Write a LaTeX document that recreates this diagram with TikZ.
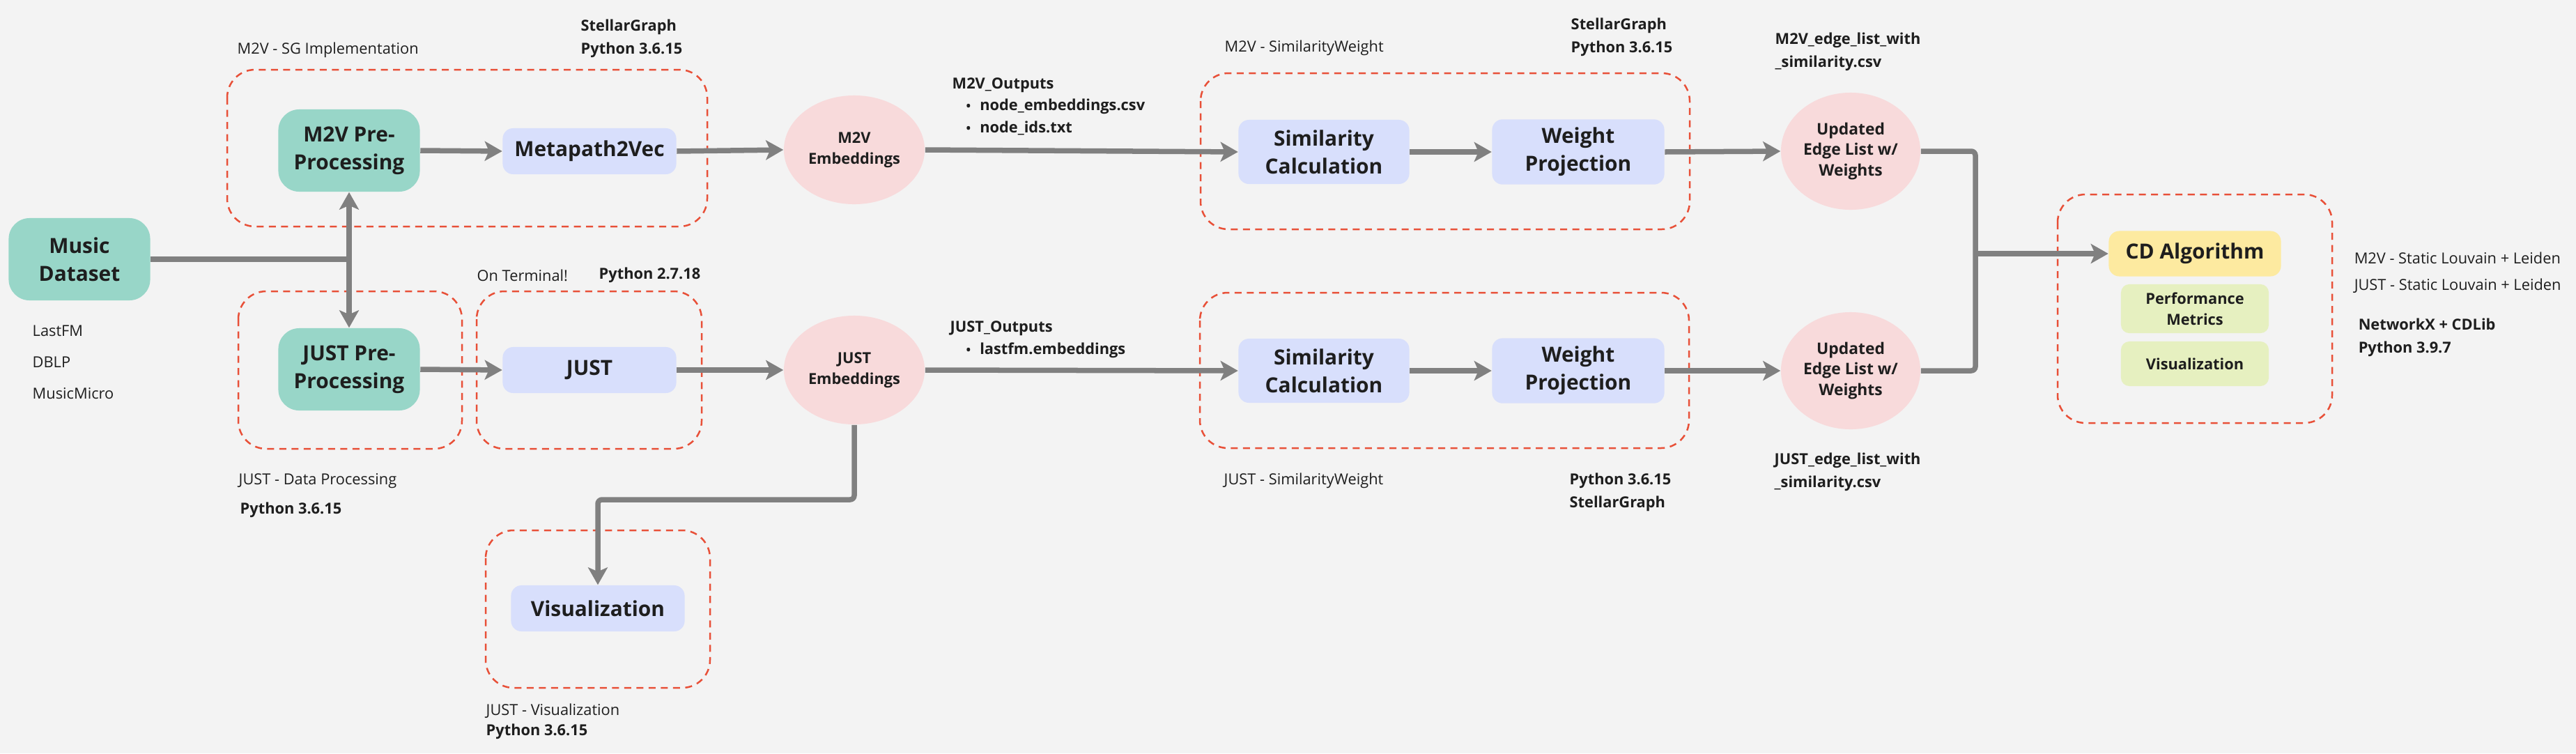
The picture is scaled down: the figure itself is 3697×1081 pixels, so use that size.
\documentclass[tikz,border=0pt]{standalone}
\usepackage{fontspec}
\setmainfont{Open Sans}
\usetikzlibrary{arrows.meta,shapes.geometric}

\newcommand{\blockfont}{\fontsize{8.5}{11.4}\selectfont\bfseries}
\newcommand{\embfont}{\fontsize{6.2}{8.5}\selectfont\bfseries}
\newcommand{\notefont}{\fontsize{6.2}{9.4}\selectfont}

\begin{document}
\begin{tikzpicture}[x=0.01cm,y=-0.01cm,
    prepbox/.style={fill=tealfill,rounded corners=0.3cm,minimum width=2.03cm,
        minimum height=1.18cm,align=center,font=\blockfont,text=ink},
    stagebox/.style={fill=stagefill,rounded corners=0.15cm,minimum width=2.49cm,
        minimum height=0.66cm,align=center,font=\blockfont,text=ink},
    embnode/.style={ellipse,fill=embfill,minimum width=2.02cm,minimum height=1.56cm,
        inner sep=0pt,align=center,font=\embfont,text=ink},
    algbox/.style={fill=algfill,rounded corners=0.15cm,minimum width=2.47cm,
        minimum height=0.65cm,font=\blockfont,text=ink},
    subbox/.style={fill=subfill,rounded corners=0.12cm,minimum width=2.12cm,
        minimum height=0.64cm,align=center,font=\embfont,text=ink},
    group/.style={draw=dashred,line width=0.025cm,dash pattern=on 0.1cm off 0.075cm,
        rounded corners=0.4cm},
    note/.style={anchor=west,inner sep=0pt,align=left,font=\notefont,text=ink},
    notebold/.style={note,font=\notefont\bfseries},
    conn/.style={draw=linegray,line width=0.075cm},
    flow/.style={conn,-{Stealth[length=2.5mm,width=2.8mm,inset=0.6mm]}}]
    \definecolor{bgcol}{RGB}{243,243,243}
    \definecolor{ink}{RGB}{30,30,30}
    \definecolor{tealfill}{RGB}{152,214,200}
    \definecolor{stagefill}{RGB}{216,223,252}
    \definecolor{embfill}{RGB}{248,218,219}
    \definecolor{algfill}{RGB}{253,234,160}
    \definecolor{subfill}{RGB}{230,240,192}
    \definecolor{dashred}{RGB}{232,80,56}
    \definecolor{linegray}{RGB}{128,128,128}

    \useasboundingbox (0,0) rectangle (3697,1081);
    \fill[bgcol] (0,0) rectangle (3697,1081);

    % groups
    \draw[group] (326,100) rectangle (1015,325);
    \draw[group] (342,418) rectangle (663,644);
    \draw[group] (684,418) rectangle (1007,644);
    \draw[group] (697,761) rectangle (1019,987);
    \draw[group] (1723,105) rectangle (2425,329);
    \draw[group] (1722,420) rectangle (2424,643);
    \draw[group] (2953,279) rectangle (3347,607);

    % blocks
    \node[prepbox] (data) at (114,372) {Music\\Dataset};
    \node[prepbox] (m2vpre) at (501,216) {M2V Pre-\\Processing};
    \node[prepbox] (justpre) at (501,530) {JUST Pre-\\Processing};
    \node[stagebox] (m2v) at (846,217) {Metapath2Vec};
    \node[stagebox] (just) at (846,531) {JUST};
    \node[stagebox] (vis) at (858,873) {Visualization};

    \node[embnode] (m2vemb) at (1226,215) {M2V\\Embeddings};
    \node[embnode] (justemb) at (1226,531) {JUST\\Embeddings};

    \node[stagebox,minimum width=2.45cm,minimum height=0.92cm] (simtop) at (1900,218) {Similarity\\Calculation};
    \node[stagebox,minimum width=2.47cm,minimum height=0.92cm] (weighttop) at (2265,218) {Weight\\Projection};
    \node[stagebox,minimum width=2.45cm,minimum height=0.92cm] (simbot) at (1900,532) {Similarity\\Calculation};
    \node[stagebox,minimum width=2.47cm,minimum height=0.92cm] (weightbot) at (2265,532) {Weight\\Projection};

    \node[embnode,minimum width=2cm,minimum height=1.68cm,font=\fontsize{6.5}{8.5}\selectfont\bfseries] (updtop) at (2656,217) {Updated\\Edge List w/\\Weights};
    \node[embnode,minimum width=2cm,minimum height=1.68cm,font=\fontsize{6.5}{8.5}\selectfont\bfseries] (updbot) at (2656,532) {Updated\\Edge List w/\\Weights};

    \node[algbox] (cd) at (3150,364) {CD Algorithm};
    \node[subbox] (perf) at (3150,443) {Performance\\Metrics};
    \node[subbox] (cdvis) at (3150,522) {Visualization};

    % notes
    \foreach \name [count=\i] in {LastFM,DBLP,MusicMicro}
        \node[note] (set\i) at (46,{475+45*(\i-1)}) {\name};

    \node[note] (sgname) at (340,72) {M2V - SG Implementation};
    \node[notebold] (sgenv) at (833,55) {StellarGraph\\Python 3.6.15};
    \node[note] (termname) at (684,395) {On Terminal!};
    \node[notebold] (termenv) at (859,395) {Python 2.7.18};
    \node[note] (dpname) at (342,690) {JUST - Data Processing};
    \node[notebold] (dpenv) at (344,732) {Python 3.6.15};
    \node[note] (visname) at (697,1020) {JUST - Visualization};
    \node[notebold] (visenv) at (697,1050) {Python 3.6.15};

    \node[notebold] (m2vout) at (1366,122) {M2V\_Outputs};
    \node[notebold] (m2vfile1) at (1386,153) {{\tiny •}\hspace{0.13cm}node\_embeddings.csv};
    \node[notebold] (m2vfile2) at (1386,184) {{\tiny •}\hspace{0.13cm}node\_ids.txt};
    \node[notebold] (justout) at (1363,471) {JUST\_Outputs};
    \node[notebold] (justfile) at (1386,503) {{\tiny •}\hspace{0.13cm}lastfm.embeddings};

    \node[note] (swtopname) at (1757,69) {M2V - SimilarityWeight};
    \node[notebold] (swtopenv) at (2254,53) {StellarGraph\\Python 3.6.15};
    \node[note] (swbotname) at (1756,690) {JUST - SimilarityWeight};
    \node[notebold] (swbotenv) at (2252,706) {Python 3.6.15\\StellarGraph};

    \node[notebold] (m2vedges) at (2547,74) {M2V\_edge\_list\_with\\\_similarity.csv};
    \node[notebold] (justedges) at (2546,677) {JUST\_edge\_list\_with\\\_similarity.csv};

    \node[note] (cdm2v) at (3378,370) {M2V - Static Louvain + Leiden};
    \node[note] (cdjust) at (3378,410) {JUST - Static Louvain + Leiden};
    \node[notebold] (cdenv) at (3384,484) {NetworkX + CDLib\\Python 3.9.7};

    % connectors
    \coordinate (split) at (data.east -| m2vpre.south);
    \draw[conn] (data.east) -- (split);
    \draw[flow] (split) -- (m2vpre.south);
    \draw[flow] (split) -- (justpre.north);

    \draw[flow] (m2vpre.east) -- (m2v.west);
    \draw[flow] (justpre.east) -- (just.west);
    \draw[flow] (m2v.east) -- (m2vemb.west);
    \draw[flow] (just.east) -- (justemb.west);
    \draw[flow] (m2vemb.east) -- (simtop.west);
    \draw[flow] (justemb.east) -- (simbot.west);
    \draw[flow] (simtop.east) -- (weighttop.west);
    \draw[flow] (simbot.east) -- (weightbot.west);
    \draw[flow] (weighttop.east) -- (updtop.west);
    \draw[flow] (weightbot.east) -- (updbot.west);

    \coordinate (visbend) at (858,717);
    \draw[flow,rounded corners=0.06cm] (justemb.south) |- (visbend) -- (vis.north);

    \coordinate (merge) at (2835,364);
    \draw[conn,rounded corners=0.06cm] (updtop.east) -| (merge);
    \draw[conn,rounded corners=0.06cm] (updbot.east) -| (merge);
    \draw[flow] (merge) -- (cd.west);
\end{tikzpicture}
\end{document}
